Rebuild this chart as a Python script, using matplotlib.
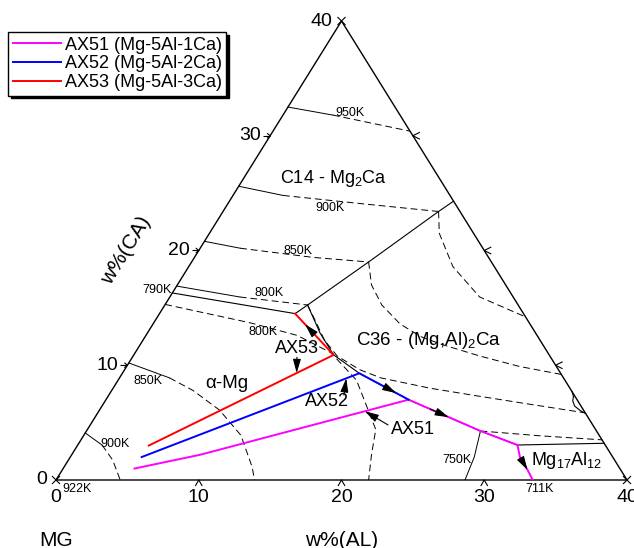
import numpy as np
import matplotlib
matplotlib.use('Agg')
import matplotlib.pyplot as plt

plt.rcParams['font.family'] = ['Liberation Sans', 'DejaVu Sans']
plt.rcParams['mathtext.fontset'] = 'custom'
plt.rcParams['mathtext.rm'] = 'Liberation Sans'
plt.rcParams['mathtext.it'] = 'Liberation Sans:italic'

# all compositions are (w%AL, w%CA), balance Mg
alloy_names = ['AX51 (Mg-5Al-1Ca)', 'AX52 (Mg-5Al-2Ca)', 'AX53 (Mg-5Al-3Ca)']
alloy_colors = ['#ff00ff', '#0000ff', '#ff0000']

# solidification paths
path51_al = [5.0, 9.0, 21.2, 27.6, 30.8, 31.5, 32.6, 33.4]
path51_ca = [1.0, 2.2, 7.0, 4.27, 3.05, 2.0, 0.87, 0.0]
path52_al = [5.0, 16.6, 21.2]
path52_ca = [2.0, 9.3, 7.0]
path53_al = [5.0, 14.0, 9.5]
path53_ca = [3.0, 10.9, 14.5]

# univariant lines (solid)
mg_c14_al = [0.0, 9.5]
mg_c14_ca = [16.3, 14.5]
c14_c36_al = [9.5, 10.0, 12.4, 15.1, 15.7]
c14_c36_ca = [14.5, 15.25, 19.0, 23.4, 24.3]
mg_c36_al = [10.0, 10.9, 12.1, 14.0, 16.6, 21.2, 27.6, 30.8]
mg_c36_ca = [15.25, 14.2, 12.8, 10.9, 9.3, 7.0, 4.27, 3.05]
c36_b_al = [30.8, 36.8]
c36_b_ca = [3.05, 3.2]
al_arc_al = [32.3, 32.6, 32.75, 33.1, 33.7, 34.2]
al_arc_ca = [7.7, 7.3, 6.9, 6.45, 6.05, 5.8]

# liquidus isotherms
iso950_al, iso950_ca = [0.0, 3.5, 9.6], [32.5, 31.8, 30.4]
iso900_c14_al, iso900_c14_ca = [0.0, 3.5, 9.2, 15.1], [25.6, 24.8, 24.1, 23.4]
iso850_c14_al, iso850_c14_ca = [0.0, 2.8, 8.3, 12.4], [20.8, 20.2, 19.4, 19.0]
iso800_c14_al, iso800_c14_ca = [0.0, 4.9, 10.0], [16.9, 15.95, 15.25]
iso800_mg_al = [0.0, 6.75, 10.6, 13.7, 16.7, 20.2, 21.0, 21.9]
iso800_mg_ca = [15.3, 13.7, 12.6, 11.1, 8.7, 4.4, 2.2, 0.0]
iso850_mg_al = [0.0, 3.5, 5.7, 8.4, 11.0, 13.2, 13.9]
iso850_mg_ca = [10.2, 8.9, 7.8, 6.1, 3.9, 1.1, 0.0]
iso900_mg_al, iso900_mg_ca = [0.0, 1.7, 3.1, 4.5], [4.1, 3.05, 1.74, 0.0]
iso750_mg_al, iso750_mg_ca = [27.6, 28.3, 28.65], [4.27, 2.0, 0.0]
iso750_c36_al, iso750_c36_ca = [27.6, 32.0, 36.5], [4.27, 3.85, 3.5]
iso900_c36_al = [15.1, 16.1, 18.5, 21.7, 25.7]
iso900_c36_ca = [23.4, 21.5, 18.6, 15.95, 14.25]
iso850_c36_al = [12.4, 13.6, 15.2, 17.3, 19.3, 21.0, 24.3, 27.5, 30.8]
iso850_c36_ca = [19.0, 17.0, 15.25, 13.6, 12.5, 11.85, 10.8, 9.9, 9.2]
iso800_c36_al = [10.0, 11.3, 12.7, 14.3, 16.5, 18.3, 22.2, 26.0, 29.9, 34.15]
iso800_c36_ca = [15.25, 13.8, 12.2, 10.8, 9.6, 8.9, 8.0, 7.3, 6.6, 5.85]

axis_ticks = [0, 10, 20, 30, 40]


def tern(al, ca):
    al = np.asarray(al, float)
    ca = np.asarray(ca, float)
    return al + ca / 2, ca


fig = plt.figure(figsize=(6.34, 5.48), dpi=100)
ax = fig.add_axes([56 / 634, 68 / 548, 571 / 634, 459 / 548])
ax.set_xlim(0, 40)
ax.set_ylim(0, 40)
ax.axis('off')
sx, sy = 571 / 40, 459 / 40   # pixels per axis unit


def off(x, y, dxp, dyp):
    return x + dxp / sx, y - dyp / sy


def seg(x0, y0, pts, lw=0.8):
    xs = [off(x0, y0, a, b)[0] for a, b in pts]
    ys = [off(x0, y0, a, b)[1] for a, b in pts]
    ax.plot(xs, ys, color='black', lw=lw, clip_on=False, solid_capstyle='butt')


# triangle frame
fx, fy = tern([0, 40, 0, 0], [0, 0, 40, 0])
ax.plot(fx, fy, color='black', lw=1.0, clip_on=False)

# tick marks and labels
for t in axis_ticks[1:4]:
    x, y = tern(0, t)
    seg(x, y, [(-7, 0), (0, 0)])
    seg(x, y, [(-3, -2.5), (0, 0), (-3, 2.5)])
    ax.text(*off(x, y, -9, 0), str(t), ha='right', va='center', fontsize=14)
    x, y = tern(t, 0)
    seg(x, y, [(-3.5, 6), (0, 0), (3.5, 6)])
    x, y = tern(40 - t, t)
    seg(x, y, [(7, -3.5), (0, 0), (7, 3.5)])
for t in axis_ticks:
    x, y = tern(t, 0)
    ax.text(*off(x, y, 0, 18), str(t), ha='center', va='center', fontsize=14)
x, y = tern(0, 40)
ax.text(*off(x, y, -9, 0), '40', ha='right', va='center', fontsize=14)
x, y = tern(0, 0)
ax.text(*off(x, y, -9, 0), '0', ha='right', va='center', fontsize=14)
for al, ca in [(0, 0), (40, 0), (0, 40)]:
    x, y = tern(al, ca)
    seg(x, y, [(-4, -4), (4, 4)])
    seg(x, y, [(-4, 4), (4, -4)])

ax.text(0, -5.25, 'MG', ha='center', va='center', fontsize=15)
ax.text(20.0, -5.25, 'w%(AL)', ha='center', va='center', fontsize=15)
ax.text(4.95, 20.0, 'w%(CA)', ha='center', va='center', fontsize=15,
        rotation=58, rotation_mode='anchor')

# univariant lines
for al, ca in [(mg_c14_al, mg_c14_ca), (c14_c36_al, c14_c36_ca),
               (mg_c36_al, mg_c36_ca), (c36_b_al, c36_b_ca),
               (al_arc_al, al_arc_ca)]:
    ax.plot(*tern(al, ca), color='black', lw=0.8)

# isotherms, the first n_solid points joined by a solid line
dash = (0, (7, 4))
isotherms = [
    (iso950_al, iso950_ca, 2), (iso900_c14_al, iso900_c14_ca, 2),
    (iso850_c14_al, iso850_c14_ca, 2), (iso800_c14_al, iso800_c14_ca, 2),
    (iso800_mg_al, iso800_mg_ca, 0), (iso850_mg_al, iso850_mg_ca, 2),
    (iso900_mg_al, iso900_mg_ca, 2), (iso750_mg_al, iso750_mg_ca, 3),
    (iso750_c36_al, iso750_c36_ca, 0), (iso900_c36_al, iso900_c36_ca, 0),
    (iso850_c36_al, iso850_c36_ca, 0), (iso800_c36_al, iso800_c36_ca, 0),
]
for al, ca, n_solid in isotherms:
    x, y = tern(al, ca)
    if n_solid > 1:
        ax.plot(x[:n_solid], y[:n_solid], color='black', lw=0.7)
    start = max(n_solid - 1, 0)
    if start < len(x) - 1:
        ax.plot(x[start:], y[start:], color='black', lw=0.7, ls=dash)

iso_labels = [('950K', 20.6, 32.0), ('900K', 19.2, 23.7), ('850K', 16.95, 19.96),
              ('800K', 14.9, 16.3), ('790K', 7.1, 16.56), ('800K', 14.5, 12.9),
              ('850K', 6.44, 8.63), ('900K', 4.13, 3.14), ('922K', 1.47, -0.78),
              ('750K', 28.1, 1.74), ('711K', 33.9, -0.78)]
for s, x, y in iso_labels:
    ax.text(x, y, s, ha='center', va='center', fontsize=9)

# phase fields
ax.text(19.4, 26.3, 'C14 - Mg$_2$Ca', ha='center', va='center', fontsize=13)
ax.text(26.1, 12.2, 'C36 - (Mg,Al)$_2$Ca', ha='center', va='center', fontsize=13.5)
ax.text(12.0, 8.45, '\u03b1-Mg', ha='center', va='center', fontsize=13.5)
ax.text(35.8, 1.7, 'Mg$_{17}$Al$_{12}$', ha='center', va='center', fontsize=13)

# solidification paths
handles = []
for al, ca, c, name in [(path51_al, path51_ca, alloy_colors[0], alloy_names[0]),
                        (path52_al, path52_ca, alloy_colors[1], alloy_names[1]),
                        (path53_al, path53_ca, alloy_colors[2], alloy_names[2])]:
    h, = ax.plot(*tern(al, ca), color=c, lw=1.4, label=name)
    handles.append(h)

arrow_kw = dict(arrowstyle='-|>,head_length=0.7,head_width=0.2', color='black',
                lw=0.8, shrinkA=0, shrinkB=0, mutation_scale=12)


def along(al, ca, i, t):
    a = al[i] + t * (al[i + 1] - al[i])
    c = ca[i] + t * (ca[i + 1] - ca[i])
    return tern(a, c)


for al, ca, i, t0, t1 in [(path53_al, path53_ca, 1, 0.5, 0.74),
                          (path52_al, path52_ca, 1, 0.5, 0.75),
                          (path51_al, path51_ca, 2, 0.3, 0.56),
                          (path51_al, path51_ca, 5, 0.1, 1.0)]:
    ax.annotate('', xy=along(al, ca, i, t1), xytext=along(al, ca, i, t0),
                arrowprops=arrow_kw)

# path labels
for name, lx, ly, tx, ty, al, ca, i, t in [
        ('AX53', 16.86, 11.5, 16.88, 10.7, path53_al, path53_ca, 0, 0.8),
        ('AX52', 18.98, 6.8, 20.17, 7.4, path52_al, path52_ca, 0, 0.94),
        ('AX51', 25.0, 4.36, 23.26, 4.8, path51_al, path51_ca, 1, 0.79)]:
    ax.text(lx, ly, name, ha='center', va='center', fontsize=13)
    ax.annotate('', xy=along(al, ca, i, t), xytext=(tx, ty), arrowprops=arrow_kw)

leg = ax.legend(handles=handles, loc='upper left', bbox_to_anchor=(8 / 634, 1 - 32 / 548),
                bbox_transform=fig.transFigure, borderaxespad=0, fontsize=13,
                handlelength=2.7, handletextpad=0.2, labelspacing=0.1, borderpad=0.25,
                fancybox=False, framealpha=1, edgecolor='black',
                shadow={'color': 'black', 'alpha': 1})
leg.get_frame().set_linewidth(1.0)

fig.savefig('out.png', dpi=100)
